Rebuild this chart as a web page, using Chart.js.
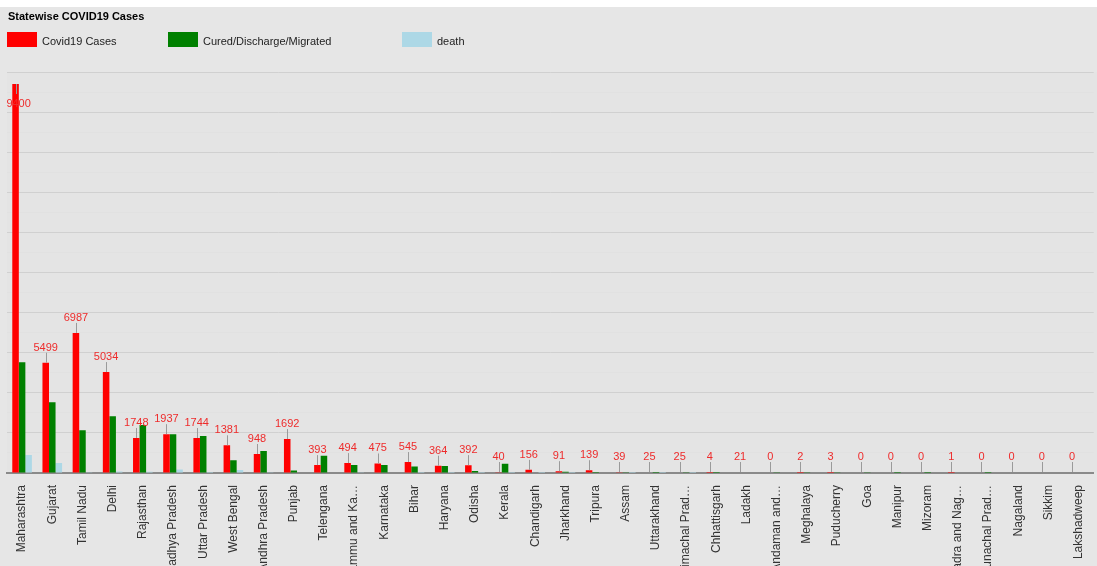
<!DOCTYPE html>
<html><head><meta charset="utf-8">
<script src="https://cdn.jsdelivr.net/npm/chart.js@4"></script>
<style>html,body{margin:0;padding:0;background:#fff}#wrap{width:1097px;height:566px}</style>
</head><body><div id="wrap"><canvas id="c" width="1097" height="566"></canvas></div>
<script>
const states = ["Maharashtra","Gujarat","Tamil Nadu","Delhi","Rajasthan","Madhya Pradesh","Uttar Pradesh","West Bengal","Andhra Pradesh","Punjab","Telengana","Jammu and Ka\u2026","Karnataka","Bihar","Haryana","Odisha","Kerala","Chandigarh","Jharkhand","Tripura","Assam","Uttarakhand","Himachal Prad\u2026","Chhattisgarh","Ladakh","Andaman and\u2026","Meghalaya","Puducherry","Goa","Manipur","Mizoram","Dadra and Nag\u2026","Arunachal Prad\u2026","Nagaland","Sikkim","Lakshadweep"];
const cases  = [19400,5499,6987,5034,1748,1937,1744,1381,948,1692,393,494,475,545,364,392,40,156,91,139,39,25,25,4,21,0,2,3,0,0,0,1,0,0,0,0];
const cured  = [5520,3530,2130,2830,2400,1930,1850,630,1100,130,860,400,400,320,350,100,460,30,60,2,40,46,40,55,21,33,10,9,7,2,1,0,1,0,0,0];
const deaths = [900,500,40,70,60,170,50,150,40,30,30,10,30,5,5,3,4,3,3,0,1,1,1,0,0,0,0,0,0,0,0,0,0,0,0,0];
const seriesNames = ["Covid19 Cases","Cured/Discharge/Migrated","death"];
const seriesColors = ["#ff0000","#008000","#add8e6"];
const titleText = "Statewise COVID19 Cases";
const yMax = 20000, yMinorStep = 1000, yMajorStep = 2000;

const decor = {
  id:'decor',
  beforeDraw(chart){
    const ctx = chart.ctx, a = chart.chartArea;
    ctx.save();
    ctx.fillStyle = '#fff'; ctx.fillRect(0,0,chart.width,chart.height);
    ctx.fillStyle = '#e6e6e6'; ctx.fillRect(0,7,chart.width,chart.height-7);
    ctx.fillStyle = '#e4e4e4'; ctx.fillRect(a.left,a.top,chart.width-a.left,a.bottom-a.top);
    ctx.fillStyle = '#000'; ctx.font = 'bold 11px Arial, "Liberation Sans", sans-serif';
    ctx.textBaseline = 'alphabetic'; ctx.textAlign = 'left';
    ctx.fillText(titleText, 8, 20);
    const lx = [7,168,402];
    ctx.font = '11px Arial, "Liberation Sans", sans-serif';
    for (let i=0;i<3;i++){
      ctx.fillStyle = seriesColors[i]; ctx.fillRect(lx[i],32,30,15);
      ctx.fillStyle = '#222'; ctx.fillText(seriesNames[i], lx[i]+35, 45);
    }
    ctx.restore();
  },
  afterDatasetsDraw(chart){
    const ctx = chart.ctx, a = chart.chartArea;
    const meta = chart.getDatasetMeta(0);
    ctx.save();
    ctx.beginPath(); ctx.rect(a.left,a.top,a.right-a.left,a.bottom-a.top); ctx.clip();
    ctx.font = '11px Arial, "Liberation Sans", sans-serif';
    ctx.textAlign = 'center'; ctx.textBaseline = 'alphabetic';
    meta.data.forEach((bar,i)=>{
      const x = Math.round(bar.x)+0.5;
      const top = Math.min(bar.y, a.bottom-1);
      const txt = String(cases[i]);
      let stemEnd, ty;
      if (top - 21 < a.top) { stemEnd = top + 10; ty = top + 23; }
      else { stemEnd = top - 10; ty = top - 12; }
      ctx.strokeStyle = '#9a9a9a'; ctx.lineWidth = 1;
      ctx.beginPath(); ctx.moveTo(x, top); ctx.lineTo(x, stemEnd); ctx.stroke();
      ctx.fillStyle = '#ee2b2b';
      ctx.fillText(txt, bar.x, ty);
    });
    ctx.restore();
  }
};

new Chart(document.getElementById('c'), {
  type:'bar',
  data:{
    labels: states,
    datasets:[
      {label:seriesNames[0], data:cases,  backgroundColor:seriesColors[0]},
      {label:seriesNames[1], data:cured,  backgroundColor:seriesColors[1]},
      {label:seriesNames[2], data:deaths, backgroundColor:seriesColors[2]}
    ]
  },
  options:{
    responsive:false, animation:false, devicePixelRatio:1,
    layout:{padding:{left:7,right:1,top:72,bottom:0}},
    datasets:{bar:{barPercentage:1, categoryPercentage:0.65}},
    plugins:{legend:{display:false}, title:{display:false}, tooltip:{enabled:false}},
    scales:{
      x:{
        grid:{display:false},
        border:{display:true,color:'#8a8a8a',width:2},
        ticks:{autoSkip:false,maxRotation:90,minRotation:90,padding:4,color:'#333',
               font:{family:'Arial, "Liberation Sans", sans-serif',size:12}},
        afterFit(s){ s.height = 93; }
      },
      y:{
        min:0, max:yMax,
        ticks:{display:false, stepSize:yMinorStep},
        grid:{drawTicks:false, color:(c)=> (c.tick && c.tick.value % yMajorStep === 0) ? '#d0d0d0' : '#e1e1e1'},
        border:{display:false},
        afterFit(s){ s.width = 0; }
      }
    }
  },
  plugins:[decor]
});
</script></body></html>
